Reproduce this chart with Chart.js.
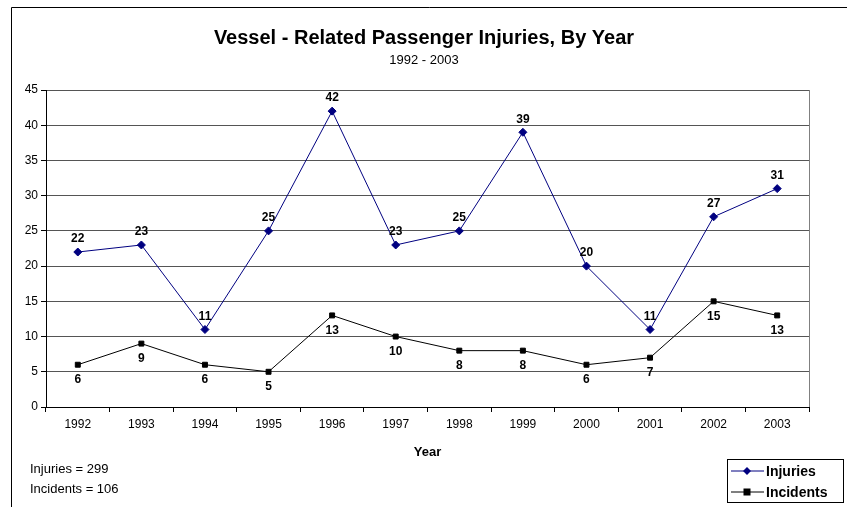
<!DOCTYPE html>
<html>
<head>
<meta charset="utf-8">
<script src="https://cdn.jsdelivr.net/npm/chart.js@4"></script>
<style>
  html, body { margin: 0; padding: 0; background: #fff; }
  canvas { display: block; }
</style>
</head>
<body>
<canvas id="vesselChart" width="847" height="507"></canvas>
<script>
// data
const years = ["1992","1993","1994","1995","1996","1997","1998","1999","2000","2001","2002","2003"];
const injuries = [22, 23, 11, 25, 42, 23, 25, 39, 20, 11, 27, 31];
const incidents = [6, 9, 6, 5, 13, 10, 8, 8, 6, 7, 15, 13];
const yTicks = [0, 5, 10, 15, 20, 25, 30, 35, 40, 45];
const totals = ["Injuries = 299", "Incidents = 106"];

const FONT = "Arial, 'Liberation Sans', sans-serif";

// titles, value labels, legend box, notes
const extras = {
  id: "extras",
  afterDraw(chart) {
    const ctx = chart.ctx;
    const area = chart.chartArea;
    ctx.save();

    // outer frame
    ctx.strokeStyle = "#000";
    ctx.lineWidth = 1;
    ctx.beginPath();
    ctx.moveTo(11.5, 520);
    ctx.lineTo(11.5, 7.5);
    ctx.lineTo(860, 7.5);
    ctx.stroke();

    // plot right edge
    ctx.strokeStyle = "#808080";
    ctx.beginPath();
    ctx.moveTo(Math.round(area.right) + 0.5, area.top);
    ctx.lineTo(Math.round(area.right) + 0.5, area.bottom);
    ctx.stroke();

    // title
    ctx.fillStyle = "#000";
    ctx.textAlign = "center";
    ctx.textBaseline = "middle";
    ctx.font = "bold 20px " + FONT;
    ctx.fillText("Vessel - Related Passenger Injuries, By Year", 424, 38);
    ctx.font = "13px " + FONT;
    ctx.fillText("1992 - 2003", 424, 60);

    // axis title
    ctx.font = "bold 13px " + FONT;
    ctx.fillText("Year", (area.left + area.right) / 2, 452);

    // value labels
    ctx.font = "bold 12px " + FONT;
    chart.data.datasets.forEach((ds, i) => {
      const meta = chart.getDatasetMeta(i);
      meta.data.forEach((pt, j) => {
        const dy = i === 0 ? -13 : 15;
        ctx.fillText(String(ds.data[j]), pt.x, pt.y + dy);
      });
    });

    // totals
    ctx.textAlign = "left";
    ctx.font = "13px " + FONT;
    totals.forEach((t, k) => ctx.fillText(t, 30, 469 + k * 20));

    // legend
    const lx = 727, ly = 459, lw = 116, lh = 43;
    ctx.strokeStyle = "#000";
    ctx.strokeRect(lx + 0.5, ly + 0.5, lw, lh);
    chart.data.datasets.forEach((ds, i) => {
      const y = ly + 12 + i * 21;
      ctx.strokeStyle = ds.borderColor;
      ctx.beginPath();
      ctx.moveTo(lx + 4, y);
      ctx.lineTo(lx + 37, y);
      ctx.stroke();
      ctx.fillStyle = ds.pointBackgroundColor;
      const cx = lx + 20;
      if (ds.pointStyle === "rectRot") {
        ctx.beginPath();
        ctx.moveTo(cx, y - 4);
        ctx.lineTo(cx + 4, y);
        ctx.lineTo(cx, y + 4);
        ctx.lineTo(cx - 4, y);
        ctx.closePath();
        ctx.fill();
      } else {
        ctx.fillRect(cx - 3.5, y - 3.5, 7, 7);
      }
      ctx.fillStyle = "#000";
      ctx.font = "bold 14px " + FONT;
      ctx.fillText(ds.label, lx + 39, y + 1);
    });

    ctx.restore();
  }
};

new Chart(document.getElementById("vesselChart"), {
  type: "line",
  data: {
    labels: years,
    datasets: [
      {
        label: "Injuries",
        data: injuries,
        borderColor: "#000080",
        backgroundColor: "#000080",
        pointBackgroundColor: "#000080",
        pointBorderColor: "#000080",
        borderWidth: 1,
        pointStyle: "rectRot",
        pointRadius: 4,
        tension: 0
      },
      {
        label: "Incidents",
        data: incidents,
        borderColor: "#000",
        backgroundColor: "#000",
        pointBackgroundColor: "#000",
        pointBorderColor: "#000",
        borderWidth: 1,
        pointStyle: "rect",
        pointRadius: 3.5,
        tension: 0
      }
    ]
  },
  options: {
    responsive: false,
    animation: false,
    layout: {
      padding: { top: 90, left: 0, right: 38, bottom: 0 }
    },
    plugins: {
      legend: { display: false },
      tooltip: { enabled: false }
    },
    scales: {
      x: {
        offset: true,
        afterFit: (s) => { s.height = 100; },
        grid: {
          offset: true,
          drawOnChartArea: false,
          drawTicks: true,
          tickLength: 5,
          tickColor: "#000"
        },
        border: { color: "#000" },
        ticks: {
          color: "#000",
          padding: 5,
          font: { family: FONT, size: 12 }
        }
      },
      y: {
        min: 0,
        max: 45,
        afterFit: (s) => { s.width = 46; },
        afterBuildTicks: (s) => { s.ticks = yTicks.map(v => ({ value: v })); },
        grid: {
          color: "#555",
          tickColor: "#000",
          tickLength: 5
        },
        border: { color: "#000" },
        ticks: {
          color: "#000",
          padding: 3,
          font: { family: FONT, size: 12 }
        }
      }
    }
  },
  plugins: [extras]
});
</script>
</body>
</html>
